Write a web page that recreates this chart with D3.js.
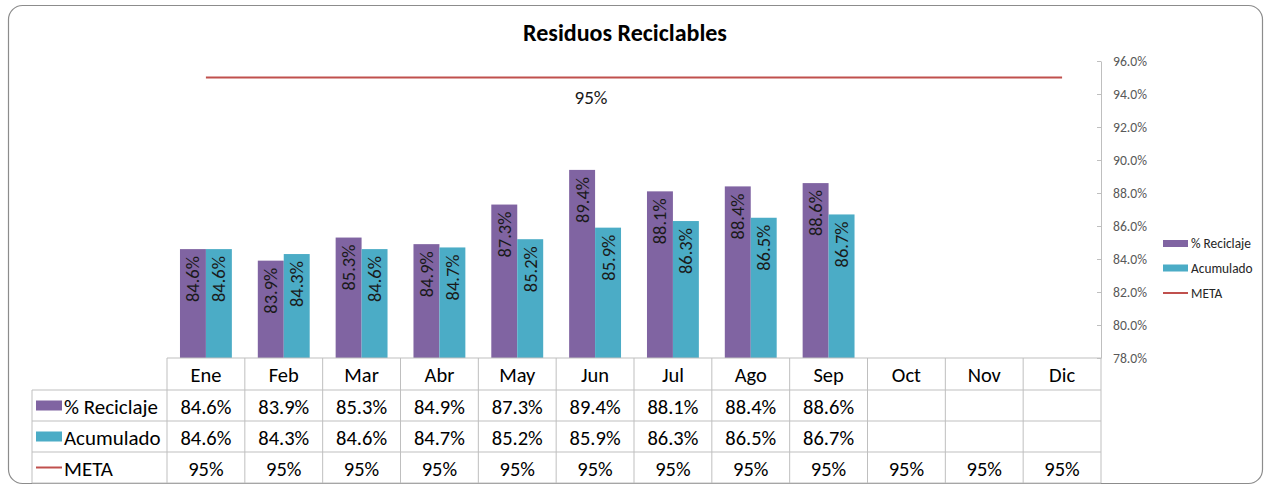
<!DOCTYPE html>
<html><head><meta charset="utf-8">
<script src="https://cdn.jsdelivr.net/npm/d3@7"></script>
<style>body{margin:0;background:#fff;}svg{display:block;font-family:Carlito,Lato,sans-serif;}</style>
</head><body><svg id="c" width="1264" height="485"></svg>
<script>
const months = ["Ene","Feb","Mar","Abr","May","Jun","Jul","Ago","Sep","Oct","Nov","Dic"];
const reciclaje = [84.6,83.9,85.3,84.9,87.3,89.4,88.1,88.4,88.6];
const acumulado = [84.6,84.3,84.6,84.7,85.2,85.9,86.3,86.5,86.7];
const meta = [95,95,95,95,95,95,95,95,95,95,95,95];
const yTicks = [78,80,82,84,86,88,90,92,94,96];
const seriesNames = ["% Reciclaje","Acumulado","META"];
const colors = {rec:"#8064A2", acu:"#4BACC6", meta:"#C0504D"};

const svg = d3.select("#c");
// font size that makes a sample string reach a target width
function fitSize(sample, target, weight){
  const t = svg.append("text").attr("font-size",100).attr("font-weight",weight||"normal").text(sample);
  const w = t.node().getComputedTextLength(); t.remove();
  return 100*target/w;
}
const fsTitle = fitSize("Residuos Reciclables",204,"bold");
const fsCell = fitSize("84.6%",51);
const fsBar = fitSize("84.6%",46);
const fsAxis = fitSize("96.0%",34);
const fsMeta = fitSize("95%",33);
const fsLeg = fitSize("% Reciclaje",60);
const fsRowHead = fitSize("% Reciclaje",94);

svg.append("rect").attr("x",8.5).attr("y",5.5).attr("width",1254).attr("height",478)
  .attr("rx",14).attr("fill","#fff").attr("stroke","#8c8c8c").attr("stroke-width",1.2);

const L=167, R=1101, T=61, B=358;
const x = d3.scaleBand().domain(months).range([L,R]);
const y = d3.scaleLinear().domain([78,96]).range([B,T]);
const inner = d3.scaleBand().domain(["rec","acu"]).range([0,x.bandwidth()]).paddingInner(0).paddingOuter(0.5);

// title
svg.append("text").attr("x",625).attr("y",41).attr("text-anchor","middle")
  .attr("font-weight","bold").attr("font-size",fsTitle).attr("fill","#000").text("Residuos Reciclables");

// axis
const ax = svg.append("g").attr("transform",`translate(${R},0)`)
  .call(d3.axisRight(y).tickValues(yTicks).tickSize(0).tickPadding(12).tickFormat(d=>d.toFixed(1)+"%"));
ax.select(".domain").attr("stroke","#bfbfbf");
ax.selectAll("text").attr("font-size",fsAxis).attr("fill","#595959").attr("font-family","Carlito,Lato,sans-serif");
ax.selectAll(".tick").append("line").attr("x1",-4).attr("x2",0).attr("stroke","#bfbfbf");

// bars
function drawBars(vals,key){
  const g = svg.append("g");
  g.selectAll("rect").data(vals).join("rect")
    .attr("x",(d,i)=>x(months[i])+inner(key)).attr("width",inner.bandwidth())
    .attr("y",d=>y(d)).attr("height",d=>B-y(d)).attr("fill",colors[key]);
  g.selectAll("text").data(vals).join("text")
    .attr("transform",(d,i)=>`translate(${x(months[i])+inner(key)+inner.bandwidth()/2},${y(d)+7}) rotate(-90)`)
    .attr("text-anchor","end").attr("dominant-baseline","central")
    .attr("font-size",fsBar).attr("fill","#1a1a1a").text(d=>d.toFixed(1)+"%");
}
drawBars(reciclaje,"rec");
drawBars(acumulado,"acu");

// meta line
const line = d3.line().x((d,i)=>x(months[i])+x.bandwidth()/2).y(d=>y(d));
svg.append("path").datum(meta).attr("d",line).attr("fill","none").attr("stroke",colors.meta).attr("stroke-width",2.2);
svg.append("text").attr("x",591).attr("y",97).attr("text-anchor","middle").attr("dominant-baseline","central")
  .attr("font-size",fsMeta).attr("fill","#1a1a1a").text("95%");

// legend
const leg = svg.append("g").attr("font-size",fsLeg).attr("fill","#262626");
[["rec",243.5],["acu",268],["meta",293]].forEach(([k,cy],i)=>{
  if(k==="meta") leg.append("line").attr("x1",1163).attr("x2",1188).attr("y1",cy).attr("y2",cy).attr("stroke",colors.meta).attr("stroke-width",2);
  else leg.append("rect").attr("x",1163).attr("y",cy-3.5).attr("width",25).attr("height",7).attr("fill",colors[k]);
  leg.append("text").attr("x",1191).attr("y",cy).attr("dominant-baseline","central").text(seriesNames[i]);
});

// data table
const TL=32, rowH=[32,31,31,31];
const rowsY=[B]; rowH.forEach(h=>rowsY.push(rowsY[rowsY.length-1]+h));
const tg = svg.append("g");
const gc="#bfbfbf";
rowsY.forEach((yy,i)=>{
  tg.append("line").attr("x1",i===0?L:TL).attr("x2",R).attr("y1",yy).attr("y2",yy).attr("stroke",gc);
});
tg.append("line").attr("x1",TL).attr("x2",TL).attr("y1",rowsY[1]).attr("y2",rowsY[4]).attr("stroke",gc);
months.forEach(m=>tg.append("line").attr("x1",x(m)).attr("x2",x(m)).attr("y1",B).attr("y2",rowsY[4]).attr("stroke",gc));
tg.append("line").attr("x1",R).attr("x2",R).attr("y1",B).attr("y2",rowsY[4]).attr("stroke",gc);

function rowText(vals,ri,fmt){
  tg.append("g").selectAll("text").data(vals).join("text")
    .attr("x",(d,i)=>x(months[i])+x.bandwidth()/2).attr("y",(rowsY[ri]+rowsY[ri+1])/2+1)
    .attr("text-anchor","middle").attr("dominant-baseline","central")
    .attr("font-size",fsCell).attr("fill","#000").text(fmt);
}
rowText(months,0,d=>d);
rowText(reciclaje,1,d=>d.toFixed(1)+"%");
rowText(acumulado,2,d=>d.toFixed(1)+"%");
rowText(meta,3,d=>d+"%");
[["rec",1],["acu",2],["meta",3]].forEach(([k,ri],i)=>{
  const cy=(rowsY[ri]+rowsY[ri+1])/2;
  if(k==="meta") tg.append("line").attr("x1",36).attr("x2",62).attr("y1",cy).attr("y2",cy).attr("stroke",colors.meta).attr("stroke-width",2);
  else tg.append("rect").attr("x",36).attr("y",cy-5).attr("width",26).attr("height",10).attr("fill",colors[k]);
  tg.append("text").attr("x",64).attr("y",cy+1).attr("dominant-baseline","central")
    .attr("font-size",fsRowHead).attr("fill","#000").text(seriesNames[i]);
});
</script></body></html>
